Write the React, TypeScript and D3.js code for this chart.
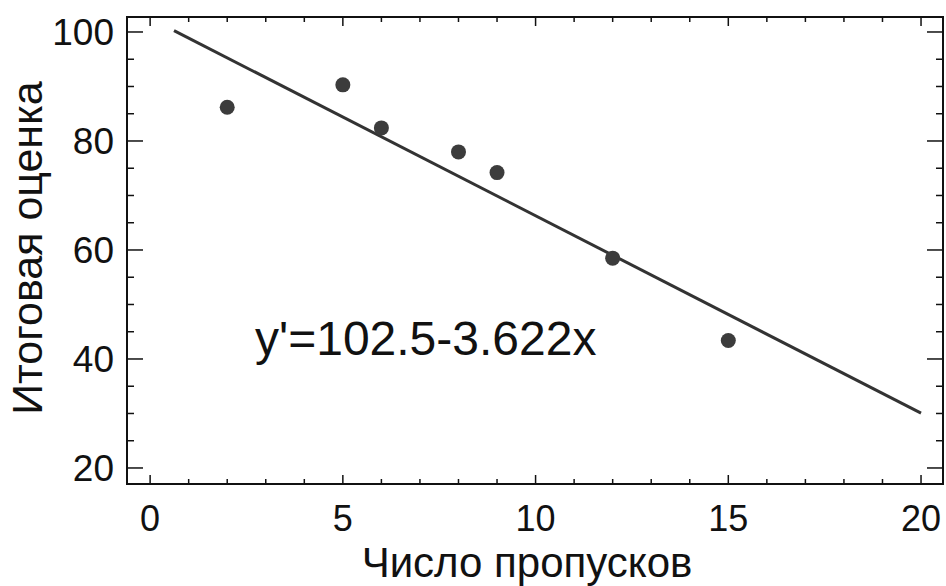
import React, { useEffect, useRef } from 'react'
import * as d3 from 'd3'

// absences vs final grade
const absences = [2, 5, 6, 8, 9, 12, 15]
const grades = [86.2, 90.3, 82.4, 78, 74.2, 58.5, 43.4]
const lineX = [0.62, 20]
const intercept = 102.5
const slope = -3.622
const xTicks = [0, 5, 10, 15, 20]
const yTicks = [20, 40, 60, 80, 100]
const xTitle = 'Число пропусков'
const yTitle = 'Итоговая оценка'
const equation = "y'=102.5-3.622x"

const W = 946
const H = 586
const left = 127, right = 943, top = 17, bottom = 484

export default function App() {
  const ref = useRef<SVGSVGElement>(null)

  useEffect(() => {
    const svg = d3.select(ref.current)
    svg.selectAll('*').remove()

    const x = d3.scaleLinear().domain([-0.6, 20.57]).range([left, right])
    const y = d3.scaleLinear().domain([17.06, 102.75]).range([bottom, top])

    const font = '"Liberation Sans", Arial, sans-serif'

    // minor / major ticks on all four sides, pointing inward
    const minorX = d3.range(0, 21, 1)
    const minorY = d3.range(20, 101, 5)
    const tickG = svg.append('g').attr('stroke', '#111').attr('stroke-width', 1.5)
    minorX.forEach(v => {
      const len = v % 5 === 0 ? 9 : 5
      tickG.append('line').attr('x1', x(v)).attr('x2', x(v)).attr('y1', bottom).attr('y2', bottom - len)
      tickG.append('line').attr('x1', x(v)).attr('x2', x(v)).attr('y1', top).attr('y2', top + len)
    })
    minorY.forEach(v => {
      const len = v % 20 === 0 ? 16 : 7
      tickG.append('line').attr('y1', y(v)).attr('y2', y(v)).attr('x1', left).attr('x2', left + len)
      tickG.append('line').attr('y1', y(v)).attr('y2', y(v)).attr('x1', right).attr('x2', right - len)
    })

    svg.append('rect')
      .attr('x', left).attr('y', top)
      .attr('width', right - left).attr('height', bottom - top)
      .attr('fill', 'none').attr('stroke', '#111').attr('stroke-width', 2)

    // tick labels
    svg.append('g').selectAll('text').data(xTicks).join('text')
      .attr('x', d => x(d)).attr('y', 531)
      .attr('text-anchor', 'middle')
      .attr('font-family', font).attr('font-size', 36)
      .attr('fill', '#111')
      .text(d => d)

    svg.append('g').selectAll('text').data(yTicks).join('text')
      .attr('x', 114).attr('y', d => y(d) + 13)
      .attr('text-anchor', 'end')
      .attr('font-family', font).attr('font-size', 37)
      .attr('fill', '#111')
      .text(d => d)

    // axis titles
    svg.append('text')
      .attr('x', 527).attr('y', 577)
      .attr('text-anchor', 'middle')
      .attr('font-family', font).attr('font-size', 42)
      .attr('fill', '#111')
      .text(xTitle)

    svg.append('text')
      .attr('transform', `translate(42,${248}) rotate(-90)`)
      .attr('text-anchor', 'middle')
      .attr('font-family', font).attr('font-size', 43)
      .attr('fill', '#111')
      .text(yTitle)

    // regression line
    const line = d3.line<number>()
      .x(d => x(d))
      .y(d => y(intercept + slope * d))
    svg.append('path')
      .attr('d', line(lineX))
      .attr('fill', 'none')
      .attr('stroke', '#333')
      .attr('stroke-width', 3)

    // points
    svg.append('g').selectAll('circle').data(absences).join('circle')
      .attr('cx', d => x(d))
      .attr('cy', (d, i) => y(grades[i]))
      .attr('r', 7.5)
      .attr('fill', '#3c3c3c')

    svg.append('text')
      .attr('x', 255).attr('y', 355)
      .attr('font-family', font).attr('font-size', 48)
      .attr('fill', '#111')
      .text(equation)
  }, [])

  return (
    <svg ref={ref} width={W} height={H}
      style={{ position: 'absolute', left: 0, top: 0, background: '#fff' }} />
  )
}
